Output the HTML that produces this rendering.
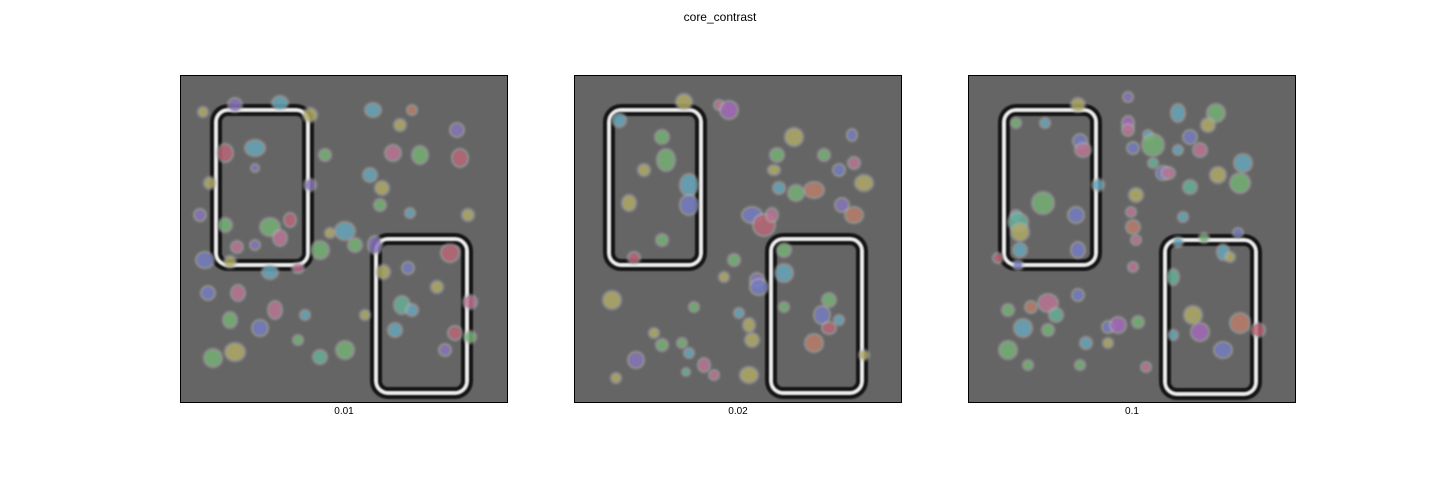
<!DOCTYPE html>
<html><head><meta charset="utf-8">
<style>
html,body{margin:0;padding:0;background:#fff;}
body{width:1440px;height:480px;overflow:hidden;font-family:"Liberation Sans",sans-serif;}
</style></head>
<body>
<svg id="fig" width="1440" height="480" xmlns="http://www.w3.org/2000/svg">
<defs>
<filter id="soft" x="-20%" y="-20%" width="140%" height="140%"><feGaussianBlur stdDeviation="0.9"/></filter>
<filter id="halo" x="-50%" y="-50%" width="200%" height="200%"><feGaussianBlur stdDeviation="1.4"/></filter>
</defs>
<text x="720" y="21" text-anchor="middle" font-size="12" fill="#000">core_contrast</text>
</svg>
<script>
const panelLabels = ["0.01", "0.02", "0.1"];
const panelLefts = [180, 574, 968];
const rectsA = [[36,35,92,155],[35,35,92,155],[36,35,92,155]];
const rectsB = [[196,164,91,154],[197,164,91,154],[197,165,91,154]];
const palette = ["#7a5fc0","#4aa3c0","#5fb35f","#c05f8a","#b0a84a","#c06a50","#5f6ac8","#48b090","#a050c0","#c04a60"];
const blobs1 = [[55,30,6,6,0],[100,28,7,6,1],[23,37,4,4,4],[130,40,6,6,4],[45,78,7,8,9],[75,73,9,7,1],[75,93,3,3,0],[145,80,5,5,2],[30,108,5,5,4],[130,110,5,5,0],[20,140,5,5,0],[45,150,6,6,2],[90,152,9,8,2],[110,145,5,6,9],[100,163,6,7,3],[75,170,4,4,0],[57,172,5,5,3],[140,175,8,8,2],[165,156,9,8,1],[150,158,4,4,4],[175,170,6,6,2],[195,170,6,8,0],[25,185,8,7,6],[50,187,5,5,4],[90,197,7,6,1],[118,193,5,4,3],[28,218,6,6,6],[58,218,6,7,3],[95,235,6,8,3],[50,245,6,7,2],[80,253,7,7,6],[125,240,4,4,1],[33,283,8,8,2],[55,277,9,8,4],[118,265,4,4,2],[140,282,6,6,7],[165,275,8,8,2],[193,35,7,6,1],[220,50,5,5,4],[232,35,4,4,5],[277,55,6,6,0],[213,78,7,7,3],[240,80,7,8,2],[280,83,7,8,9],[190,100,6,6,1],[202,113,6,6,4],[200,130,5,5,2],[230,138,4,4,1],[288,140,5,5,4],[228,193,5,5,6],[203,197,6,6,4],[270,178,8,8,9],[257,212,5,5,4],[222,230,7,8,7],[232,235,5,5,1],[290,227,6,6,3],[215,255,6,6,1],[275,258,6,6,9],[290,262,5,5,2],[265,275,5,5,0],[185,240,4,4,4]];
const blobs2 = [[110,27,7,7,4],[145,30,4,4,3],[155,35,8,8,8],[45,45,6,6,1],[88,62,6,6,2],[220,62,8,8,4],[278,60,4,5,6],[70,95,5,5,4],[92,85,8,10,2],[203,80,6,6,2],[115,110,8,10,1],[55,128,6,7,4],[200,95,5,4,4],[250,80,5,5,2],[280,88,5,5,3],[265,95,5,5,6],[290,108,8,7,4],[240,115,9,7,5],[205,113,5,5,1],[222,118,7,7,2],[268,130,6,6,0],[280,140,8,7,5],[178,140,9,7,6],[190,150,10,10,9],[115,130,8,9,6],[198,140,5,6,3],[88,165,5,5,2],[60,183,5,5,9],[160,185,5,5,2],[210,175,6,6,2],[183,205,6,6,0],[210,198,8,8,1],[185,212,8,7,6],[150,202,4,4,4],[38,225,8,8,4],[120,232,4,4,2],[115,278,4,4,1],[140,300,4,4,3],[165,238,4,4,1],[210,232,4,4,2],[255,225,6,6,2],[248,240,7,8,6],[265,245,4,4,1],[175,250,5,6,4],[178,265,6,6,4],[62,285,7,7,0],[80,258,4,4,4],[88,270,5,5,2],[108,268,4,4,2],[130,290,5,6,3],[112,297,3,3,7],[175,300,8,7,4],[42,303,4,4,4],[240,268,8,8,5],[255,253,6,5,9],[290,280,4,4,4]];
const blobs3 = [[160,22,4,4,0],[210,38,6,8,1],[248,38,8,8,2],[240,50,6,6,4],[160,48,5,6,8],[180,60,4,4,1],[110,30,6,6,4],[48,48,4,4,2],[77,48,4,4,1],[185,70,10,10,2],[222,62,6,6,6],[160,55,5,5,3],[165,73,5,5,6],[210,75,4,4,1],[232,75,6,6,3],[275,88,8,8,1],[185,88,4,4,7],[195,98,6,6,6],[112,66,6,6,6],[115,75,7,6,3],[200,98,6,5,3],[222,112,6,6,7],[250,100,7,7,4],[272,108,9,9,2],[130,110,5,5,1],[168,120,6,6,4],[163,137,4,4,3],[215,142,4,4,1],[75,128,10,10,2],[108,140,7,7,6],[48,140,4,4,1],[50,147,9,8,7],[52,157,8,8,4],[165,152,6,6,5],[210,167,4,4,1],[236,163,4,4,2],[270,158,4,4,6],[168,165,4,4,3],[52,175,6,6,1],[110,175,6,7,6],[30,183,4,4,9],[50,190,4,4,6],[165,192,4,4,3],[205,202,5,7,7],[255,177,5,7,1],[262,182,4,4,4],[110,220,5,5,6],[80,228,9,8,3],[63,232,5,5,5],[40,235,5,5,2],[88,240,6,6,7],[55,253,8,8,1],[80,255,5,5,2],[140,252,5,5,6],[150,250,7,7,8],[170,247,5,5,2],[225,240,8,8,4],[232,257,8,8,8],[272,248,9,9,5],[290,255,6,6,9],[255,275,8,7,6],[40,275,8,8,2],[60,290,4,4,2],[118,268,5,5,1],[140,268,4,4,4],[112,290,4,4,2],[205,260,4,4,1],[178,292,4,4,3]];
const panelBlobs = [blobs1, blobs2, blobs3];

const NS = "http://www.w3.org/2000/svg";
const svg = document.getElementById('fig');
const top0 = 75, size = 328, imgN = 328;
function sx(p, v){ return panelLefts[p] + v / imgN * size; }
function sy(v){ return top0 + v / imgN * size; }
function mk(tag, attrs){ const e = document.createElementNS(NS, tag); for (const k in attrs) e.setAttribute(k, attrs[k]); return e; }

for (let p = 0; p < 3; p++) {
  const g = mk('g', {});
  
  
  svg.appendChild(g);
  const bg = mk('rect', {x: panelLefts[p], y: top0, width: size, height: size, fill: '#656565'});
  
  
  g.appendChild(bg);
  const rg = mk('g', {filter: 'url(#soft)'});
  g.appendChild(rg);
  [rectsA[p], rectsB[p]].forEach((r, i) => {
    const x = sx(p, r[0]), y = sy(r[1]), w = r[2] / imgN * size, h = r[3] / imgN * size;
    const outer = mk('rect', {x: x, y: y, width: w, height: h, rx: 12, fill: 'none', stroke: '#141414', 'stroke-width': 12});
    
    
    rg.appendChild(outer);
    const inner = mk('rect', {x: x, y: y, width: w, height: h, rx: 12, fill: 'none', stroke: '#f2f2f2', 'stroke-width': 3});
    
    
    rg.appendChild(inner);
  });
  const bgr = mk('g', {});
  g.appendChild(bgr);
  panelBlobs[p].forEach(b => {
    const cx = sx(p, b[0]), cy = sy(b[1]), rx = b[2] / imgN * size, ry = b[3] / imgN * size;
    const h = mk('ellipse', {cx: cx, cy: cy, rx: rx + 2, ry: ry + 2, fill: '#b0b0b0', opacity: 0.6, filter: 'url(#halo)'});
    
    
    bgr.appendChild(h);
    const c = mk('ellipse', {cx: cx, cy: cy, rx: rx, ry: ry, fill: palette[b[4]], opacity: 0.6, filter: 'url(#soft)'});
    
    
    bgr.appendChild(c);
  });
  const border = mk('rect', {x: panelLefts[p] + 0.5, y: top0 + 0.5, width: size - 1, height: size - 1, fill: 'none', stroke: '#000', 'stroke-width': 1});
  
  
  g.appendChild(border);
  const lbl = mk('text', {x: panelLefts[p] + size / 2, y: 414, 'text-anchor': 'middle', 'font-size': 10, fill: '#000'});
  lbl.textContent = panelLabels[p];
  
  
  g.appendChild(lbl);
}
</script>
</body></html>
